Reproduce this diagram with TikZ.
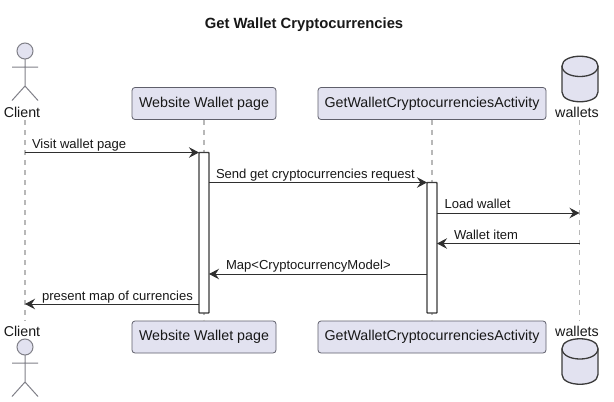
\documentclass[tikz,border=0pt]{standalone}
\usepackage{fontspec}
\setmainfont{Liberation Sans}
\usetikzlibrary{arrows.meta,calc}
\definecolor{pfill}{HTML}{E2E2F0}
\definecolor{pline}{HTML}{5F5F6B}
\definecolor{ink}{HTML}{181818}
\definecolor{life}{HTML}{B8B8B8}
\definecolor{agray}{HTML}{808088}
\tikzset{
  x=1pt,y=-1pt,
  every node/.style={inner sep=0pt,outer sep=0pt,text=ink,font=\fontsize{14.25}{16}\selectfont},
  pbox/.style={draw=pline,fill=pfill,line width=0.8pt,rounded corners=3pt,minimum height=32pt,anchor=center},
  lifeline/.style={draw=life,line width=1.1pt,dash pattern=on 5pt off 5pt},
  actv/.style={draw=ink!85,fill=white,line width=1.3pt,rounded corners=0.6pt},
  msg/.style={draw=ink!90,line width=1pt,-{Stealth[length=10pt,width=10.5pt,inset=3.5pt]}},
  mlabel/.style={font=\fontsize{13.05}{15}\selectfont,anchor=base west},
  actorline/.style={draw=agray,line width=1pt},
  cyl/.style={draw=ink!85,fill=pfill,line width=1.3pt}
}
\newcommand{\actorfig}[2]{%
  \draw[actorline,fill=pfill] (#1,#2) circle[radius=8];
  \draw[actorline] (#1,#2+8) -- (#1,#2+35) (#1-13,#2+16) -- (#1+13,#2+16)
     (#1-13,#2+49.5) -- (#1,#2+35) -- (#1+13,#2+49.5);}
\newcommand{\dbfig}[2]{%
  \draw[cyl] (#1-18,#2+10) .. controls (#1-18,#2-3) and (#1+18,#2-3) .. (#1+18,#2+10)
     -- (#1+18,#2+36) .. controls (#1+18,#2+49) and (#1-18,#2+49) .. (#1-18,#2+36) -- cycle;
  \draw[cyl,fill=none] (#1-18,#2+10) .. controls (#1-18,#2+24) and (#1+18,#2+24) .. (#1+18,#2+10);}
\begin{document}
\begin{tikzpicture}
\useasboundingbox (0,0) rectangle (614,402);
\fill[white] (0,0) rectangle (614,402);
\node[font=\bfseries\fontsize{14.8}{16}\selectfont] (title) at (304,24.5) {Get Wallet Cryptocurrencies};

\node (clientT) at (22,112) {Client};
\node (clientB) at (22,331) {Client};
\node[pbox,minimum width=144pt] (webT) at (204,103.5) {Website Wallet page};
\node[pbox,minimum width=144pt] (webB) at (204,337) {Website Wallet page};
\node[pbox,minimum width=228pt] (actT) at (432,103.5) {GetWalletCryptocurrenciesActivity};
\node[pbox,minimum width=228pt] (actB) at (432,337) {GetWalletCryptocurrenciesActivity};
\node (walT) at (577,112) {wallets};
\node (walB) at (577,331) {wallets};

\coordinate (cT) at (25,120); \coordinate (cB) at (25,321);
\coordinate (wT) at (579.5,120); \coordinate (wB) at (579.5,321);
\draw[lifeline] (cT) -- (cB);
\draw[lifeline] (webT) -- (webB);
\draw[lifeline] (actT) -- (actB);
\draw[lifeline] (wT) -- (wB);

\actorfig{25}{51}
\actorfig{25}{347}
\dbfig{580}{56}
\dbfig{580}{338.5}

\node[actv,minimum width=10pt,minimum height=160.5pt,draw] (a1) at (204,232.75) {};
\node[actv,minimum width=10pt,minimum height=130.5pt,draw] (a2) at (432,247.75) {};

\coordinate (p1) at (25,152.5);
\draw[msg] (p1) -- (p1 -| a1.west);
\coordinate (p2) at (204,182.5);
\draw[msg] (p2 -| a1.east) -- (p2 -| a2.west);
\coordinate (p3) at (432,213);
\draw[msg] (p3 -| a2.east) -- (p3 -| wT);
\coordinate (p4) at (432,243.5);
\draw[msg] (p4 -| wT) -- (p4 -| a2.east);
\coordinate (p5) at (432,274);
\draw[msg] (p5 -| a2.west) -- (p5 -| a1.east);
\coordinate (p6) at (204,304);
\draw[msg] (p6 -| a1.west) -- (p6 -| cT);

\node[mlabel] (l1) at (32,148) {Visit wallet page};
\node[mlabel] (l2) at (216,178) {Send get cryptocurrencies request};
\node[mlabel] (l3) at (444.5,208.5) {Load wallet};
\node[mlabel] (l4) at (454,239) {Wallet item};
\node[mlabel] (l5) at (226,269.5) {Map<CryptocurrencyModel>};
\node[mlabel] (l6) at (42,300) {present map of currencies};
\end{tikzpicture}
\end{document}
